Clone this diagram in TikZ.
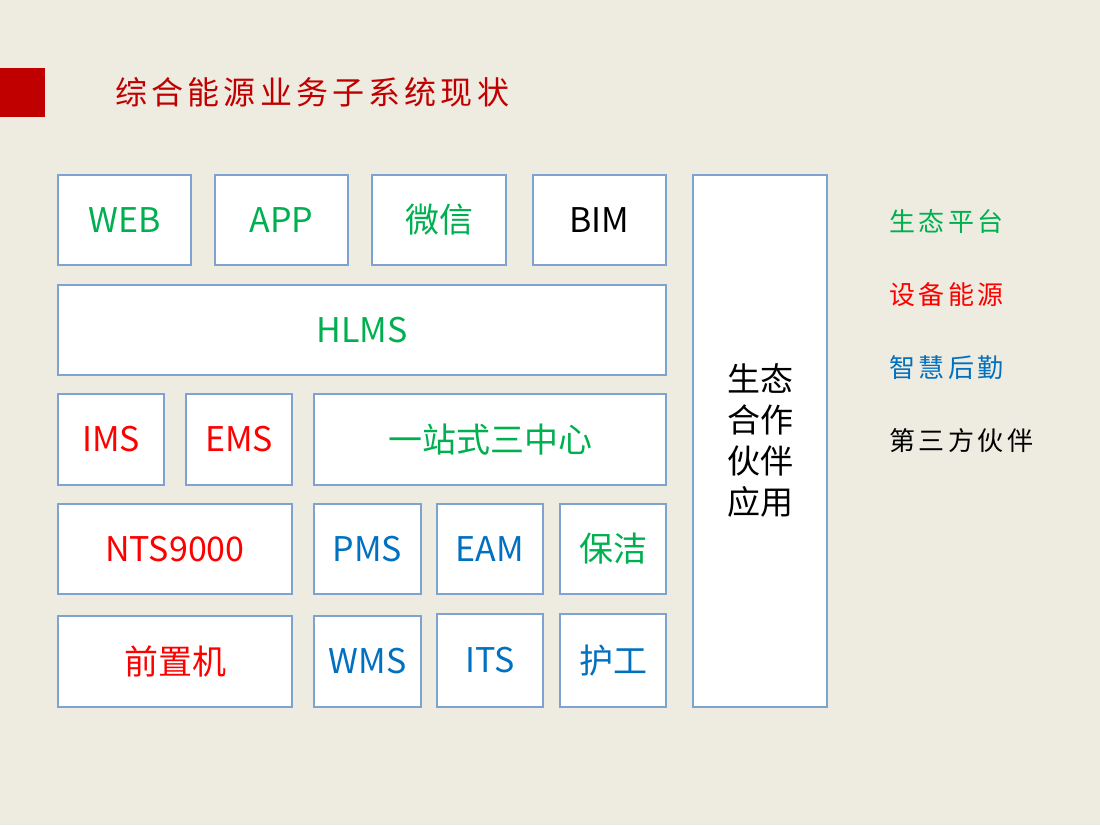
\documentclass[tikz,border=0pt]{standalone}
\usepackage{fontspec}
\setmainfont{Noto Sans}
\newfontfamily\cjk{Noto Sans CJK SC}
\newfontfamily\cjksp{Noto Sans CJK SC}[LetterSpace=13]
\definecolor{bg}{HTML}{EEEBE0}
\definecolor{gr}{HTML}{00B050}
\definecolor{rd}{HTML}{FF0000}
\definecolor{bl}{HTML}{0070C0}
\definecolor{bd}{HTML}{7FA3D0}
\definecolor{dr}{HTML}{C00000}
\begin{document}
\begin{tikzpicture}[x=1pt,y=-1pt,
  bx/.style={draw=bd,line width=1.2pt,fill=white},
  lab/.style={font=\fontsize{34}{38}\selectfont\cjk},
  leg/.style={font=\fontsize{26}{30}\selectfont\cjksp,anchor=west}]
\fill[bg] (0,0) rectangle (1100,825);
\useasboundingbox (0,0) rectangle (1100,825);
\fill[dr] (0,68) rectangle (45,117);
\node[font=\fontsize{32}{36}\selectfont\cjksp,text=dr,anchor=west] (title) at (112,92) {综合能源业务子系统现状};
\newcommand{\bxn}[6]{\draw[bx] (#2,#3) rectangle (#4,#5); \node[lab,text=#6] (#1) at ({(#2+#4)/2},{(#3+#5)/2}) }
\bxn{web}{58}{175}{191}{265}{gr}{WEB};
\bxn{app}{215}{175}{348}{265}{gr}{APP};
\bxn{wx}{372}{175}{506}{265}{gr}{微信};
\bxn{bim}{533}{175}{666}{265}{black}{BIM};
\bxn{hlms}{58}{285}{666}{375}{gr}{HLMS};
\bxn{ims}{58}{394}{164}{485}{rd}{IMS};
\bxn{ems}{186}{394}{292}{485}{rd}{EMS};
\bxn{yz}{314}{394}{666}{485}{gr}{一站式三中心};
\bxn{nts}{58}{504}{292}{594}{rd}{NTS9000};
\bxn{pms}{314}{504}{421}{594}{bl}{PMS};
\bxn{eam}{437}{504}{543}{594}{bl}{EAM};
\bxn{bj}{560}{504}{666}{594}{gr}{保洁};
\bxn{qz}{58}{616}{292}{707}{rd}{前置机};
\bxn{wms}{314}{616}{421}{707}{bl}{WMS};
\bxn{its}{437}{614}{543}{707}{bl}{ITS};
\bxn{hg}{560}{614}{666}{707}{bl}{护工};
\draw[bx] (693,175) rectangle (827,707);
\node[lab,align=center,font=\fontsize{33}{41}\selectfont\cjk] (st) at (760,441) {生态\\合作\\伙伴\\应用};
\node[leg,text=gr] (l1) at (886,222) {生态平台};
\node[leg,text=rd] (l2) at (886,295) {设备能源};
\node[leg,text=bl] (l3) at (886,368) {智慧后勤};
\node[leg,text=black] (l4) at (886,441) {第三方伙伴};
\end{tikzpicture}
\end{document}
